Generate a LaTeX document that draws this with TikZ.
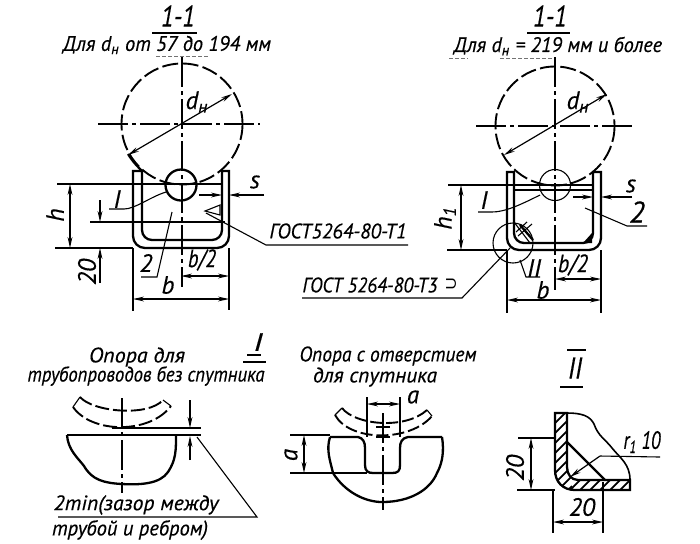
\documentclass[tikz,border=0pt]{standalone}
\usepackage{fontspec}
\usepackage{graphicx}
\setmainfont[ItalicFeatures={FakeBold=0.4}]{PT Sans}
\newfontfamily\symfont{DejaVu Sans}
\usetikzlibrary{arrows.meta}
\newcommand\fit[2]{\resizebox{\dimexpr#1pt/2\relax}{\height}{#2}}
\tikzset{
  x=0.5pt,y=-0.5pt,
  lab/.style={inner sep=0pt,font=\itshape\fontsize{10.5}{10.5}\selectfont},
  big/.style={inner sep=0pt,font=\itshape\fontsize{15}{15}\selectfont},
  mid/.style={inner sep=0pt,font=\itshape\fontsize{12.5}{12.5}\selectfont},
  thin line/.style={line width=0.55pt},
  heavy/.style={line width=1.15pt},
  pipe/.style={line width=0.95pt,dash pattern=on 8pt off 2.2pt},
  axis/.style={line width=0.55pt,dash pattern=on 15pt off 2pt on 2pt off 2pt},
  dim/.style={line width=0.6pt,{Stealth[length=5.5pt,width=2.4pt]}-{Stealth[length=5.5pt,width=2.4pt]}},
  tip/.style={line width=0.6pt,-{Stealth[length=5.5pt,width=2.4pt]}},
  noise/.style={line width=0.4pt,black!55,dash pattern=on 2pt off 1pt}
}
\begin{document}
\begin{tikzpicture}
\useasboundingbox[fill=white] (0,0) rectangle (700,543);
% ---------- LEFT SECTION ----------
\node[big] (t1) at (178,16) {\fit{34}{1-1}};
\draw[heavy] (152,33) -- (197,33);
\node[lab] (t2) at (167,45) {\fit{208}{Для d\textsubscript{н} от 57 до 194 мм}};
\draw[noise] (156,56) -- (208,56);
\draw[pipe] (182,124) circle (60.5);
\draw[heavy] (128,154) .. controls (133,162) and (138,167) .. (143,172);
\draw[heavy] (181,185) circle (15.5);
\draw[axis] (182,57) -- (182,287);
\draw[axis] (98,124) -- (260,124);
\draw[dim] (232,94) -- (128,155);
\node[mid] (dn1) at (197,102) {d\textsubscript{н}};
\draw[heavy] (133,171) -- (133,236) arc (180:90:12) -- (217,248) arc (90:0:12) -- (229,171) -- (222,171) -- (222,230) arc (0:90:10) -- (152,240) arc (90:180:10) -- (142,171) -- cycle;
\draw[heavy] (57,184) -- (222,184);
\draw[heavy] (90,222) -- (225,222);
\draw[thin line] (55,248) -- (133,248);
\draw[dim] (70,184) -- (70,248);
\node[mid,rotate=90] (h1) at (55,215) {h};
\draw[tip] (100,200) -- (100,222);
\draw[tip] (100,283) -- (100,248);
\node[mid,rotate=90] (n20a) at (87,272) {20};
\node[mid] (I1) at (117,199) {I};
\draw[thin line] (109,209) -- (124,209) .. controls (135,209) and (150,197) .. (166,192);
\node[mid] (two1) at (146,263) {2};
\draw[thin line] (141,277) -- (157,277) -- (172,212);
\node[mid] (s1) at (255,182) {s};
\draw[tip] (264,195) -- (229,195);
\draw[tip] (199,195) -- (222,195);
\draw[thin line] (220,205) -- (205,211) -- (220,215) -- cycle;
\node[lab] (g1) at (338,231) {\fit{137}{ГОСТ5264-80-Т1}};
\draw[thin line] (206,213) -- (266,245) -- (408,245);
\node[mid] (b2a) at (202,260) {\fit{28}{b/2}};
\draw[dim] (181,276) -- (229,276);
\node[mid] (b1) at (168,285) {b};
\draw[dim] (133,299) -- (229,299);
\draw[thin line] (133,248) -- (133,311);
\draw[thin line] (229,248) -- (229,310);
% ---------- RIGHT SECTION ----------
\node[big] (t3) at (550,16) {\fit{34}{1-1}};
\draw[heavy] (527,33) -- (570,33);
\node[lab] (t4) at (558,46) {\fit{208}{Для d\textsubscript{н} = 219 мм и более}};
\draw[noise] (449,58) -- (468,58);
\draw[noise] (500,58) -- (552,58);
\draw[pipe] (555,126) circle (59.5);
\draw[thin line] (555,185) circle (15.5);
\draw[axis] (555,57) -- (555,290);
\draw[axis] (476,126) -- (635,126);
\draw[dim] (607,94) -- (504,155);
\node[mid] (dn2) at (578,102) {d\textsubscript{н}};
\draw[heavy] (507,172) -- (507,238) arc (180:90:12) -- (589,250) arc (90:0:12) -- (601,172) -- (593,172) -- (593,233) arc (0:90:10) -- (524,243) arc (90:180:10) -- (514,172) -- cycle;
\draw[heavy] (448,185) -- (593,185);
\draw[thin line] (447,250) -- (507,250);
\draw[heavy] (514,190) -- (593,190);
\draw[dim] (461,185) -- (461,250);
\node[mid,rotate=90] (h2) at (445,218) {h\textsubscript{1}};
\node[mid] (I2) at (484,200) {I};
\draw[thin line] (478,212) -- (492,212) .. controls (505,212) and (520,205) .. (540,195);
\node[big] (two2) at (637,212) {2};
\draw[thin line] (647,226) -- (627,226) -- (585,208);
\node[mid] (s2) at (631,186) {s};
\draw[tip] (632,197) -- (601,197);
\draw[tip] (573,197) -- (593,197);
\draw[thin line] (513,243) circle (20);
\draw[thin line] (514,222) -- (530,243);
\draw[thin line] (516,232) -- (527,222);
\draw[thin line] (518,236) -- (532,224);
\draw[heavy] (520,225) -- (533,240);
\fill (583,243) -- (592,243) -- (592,233) -- cycle;
\node[mid] (II1) at (534,268) {II};
\draw[thin line] (520,260) -- (526,277) -- (540,277);
\node[lab] (g2) at (370,285) {\fit{135}{ГОСТ 5264-80-Т3}};
\node[lab] (g2b) at (451,285) {\fit{13}{\symfont ⊃}};
\draw[thin line] (302,298) -- (462,298) -- (510,248);
\node[mid] (b2b) at (573,265) {\fit{30}{b/2}};
\draw[dim] (555,279) -- (601,279);
\node[mid] (b3) at (543,290) {b};
\draw[dim] (507,300) -- (601,300);
\draw[thin line] (507,250) -- (507,313);
\draw[thin line] (601,250) -- (601,313);
% ---------- DETAIL I, NO SATELLITE ----------
\node[lab] (c1) at (137,357) {\fit{96}{Опора для}};
\node[lab] (c2) at (146,376) {\fit{237}{трубопроводов без спутника}};
\node[mid] (c3) at (258,342) {\fit{9}{I}};
\draw[heavy] (247,355) -- (261,355);
\draw[heavy] (243,362) -- (266,362);
\draw[thin line] (80,397) -- (73,407);
\draw[thin line] (163,400) -- (171,406);
\draw[pipe,dash pattern=on 7pt off 2pt] (80,397) .. controls (93,412) and (148,417) .. (163,400);
\draw[pipe,dash pattern=on 7pt off 2pt] (73,407) .. controls (92,434) and (150,434) .. (171,406);
\draw[axis] (122,398) -- (122,493);
\draw[thin line] (112,428) -- (201,428);
\draw[heavy] (67,435) -- (201,435);
\draw[heavy] (67,435) .. controls (68,450) and (78,458) .. (84,466) .. controls (92,480) and (104,483) .. (122,484) .. controls (140,485) and (160,484) .. (168,472) .. controls (176,460) and (176,450) .. (176,436);
\draw[tip] (190,400) -- (190,428);
\draw[tip] (190,460) -- (190,436);
\node[lab] (c4) at (136,505) {\fit{165}{2min(зазор между}};
\node[lab] (c5) at (130,530) {\fit{156}{трубой и ребром)}};
\draw[thin line] (197,437) -- (257,517) -- (58,517);
% ---------- DETAIL I, WITH HOLE ----------
\node[lab] (d1) at (388,356) {\fit{177}{Опора с отверстием}};
\node[lab] (d2) at (375,377) {\fit{124}{для спутника}};
\draw[thin line] (367,397) -- (367,437);
\draw[thin line] (400,397) -- (400,437);
\draw[dim] (367,404) -- (400,404);
\node[mid] (a1) at (413,397) {a};
\draw[thin line] (342,408) -- (335,415);
\draw[thin line] (427,410) -- (432,416);
\draw[pipe,dash pattern=on 6pt off 2pt] (342,408) .. controls (355,425) and (405,430) .. (427,410);
\draw[pipe,dash pattern=on 6pt off 2pt] (335,415) .. controls (350,442) and (410,442) .. (432,416);
\draw[axis] (383,413) -- (383,510);
\draw[thin line] (376,427) -- (390,427);
\draw[thin line] (376,437) -- (390,437);
\draw[heavy] (330,437) -- (358,437) .. controls (363,438) and (365,442) .. (365,448) -- (365,465) .. controls (365,471) and (368,473) .. (373,473) -- (392,473) .. controls (398,473) and (400,471) .. (400,465) -- (400,448) .. controls (400,442) and (402,438) .. (408,437) -- (442,437);
\draw[heavy] (330,437) .. controls (326,450) and (330,460) .. (333,473) .. controls (345,492) and (365,502) .. (382,502) .. controls (410,502) and (430,490) .. (437,473) .. controls (443,462) and (444,450) .. (442,437);
\draw[thin line] (290,435) -- (330,435);
\draw[heavy] (290,473) -- (367,473);
\draw[dim] (304,435) -- (304,473);
\node[mid,rotate=90] (a2) at (291,455) {a};
% ---------- DETAIL II ----------
\node[big] (e1) at (575,368) {\fit{14}{II}};
\draw[heavy] (567,350) -- (586,350);
\draw[heavy] (560,387) -- (583,387);
\begin{scope}
\clip (555,413) -- (555,470) .. controls (555,482) and (563,490) .. (575,490) -- (630,490) -- (630,480) -- (578,480) .. controls (571,480) and (567,474) .. (567,467) -- (567,413) -- cycle;
\foreach \k in {0,10,...,160} {
  \draw[line width=0.9pt] (550,{418+\k}) ++(0,0) -- ++(22,-22);
}
\foreach \k in {0,10,...,70} {
  \draw[line width=0.9pt] ({565+\k},495) -- ++(18,-18);
}
\end{scope}
\draw[heavy] (555,413) -- (555,470) .. controls (555,482) and (563,490) .. (575,490) -- (630,490) -- (630,480) -- (578,480) .. controls (571,480) and (567,474) .. (567,467) -- (567,413) -- cycle;
\draw[heavy] (567,442) -- (605,480);
\draw[line width=0.8pt] (567,413) .. controls (582,413) and (590,416) .. (594,424) .. controls (598,436) and (606,440) .. (612,448) .. controls (620,458) and (630,464) .. (630,480);
\draw[thin line] (660,457) -- (600,456);
\draw[tip] (600,456) -- (570,477);
\node[mid] (e2) at (642,442) {\fit{37}{r\textsubscript{1} 10}};
\draw[thin line] (518,438) -- (555,438);
\draw[thin line] (517,490) -- (555,490);
\draw[dim] (531,438) -- (531,490);
\node[mid,rotate=90] (e3) at (515,468) {20};
\draw[thin line] (553,490) -- (553,533);
\draw[thin line] (603,482) -- (603,533);
\draw[dim] (553,522) -- (603,522);
\node[mid] (e4) at (582,507) {20};
\end{tikzpicture}
\end{document}
